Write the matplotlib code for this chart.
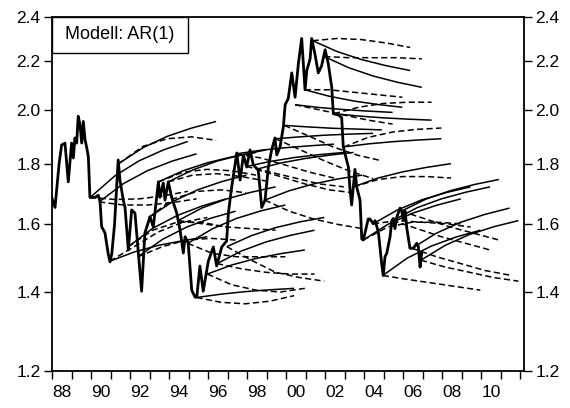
import matplotlib
matplotlib.use("Agg")
import matplotlib.pyplot as plt
from matplotlib.ticker import FixedLocator, NullLocator, FixedFormatter
from matplotlib.patches import Rectangle

plt.rcParams['font.family'] = ['Liberation Sans', 'DejaVu Sans']

# beobachtete Reihe (Jahr, Wert)
years = [1987.97, 1988.14, 1988.35, 1988.48, 1988.65, 1988.82, 1988.99, 1989.08, 1989.16,
         1989.25, 1989.33, 1989.42, 1989.51, 1989.59, 1989.68, 1989.76, 1989.85, 1989.93,
         1990.19, 1990.36, 1990.45, 1990.53, 1990.70, 1990.87, 1990.96, 1991.05, 1991.19,
         1991.38, 1991.47, 1991.64, 1991.73, 1991.90, 1992.07, 1992.24, 1992.41, 1992.58,
         1992.75, 1993.01, 1993.18, 1993.44, 1993.52, 1993.69, 1993.78, 1993.95, 1994.12,
         1994.38, 1994.55, 1994.72, 1994.81, 1994.97, 1995.15, 1995.32, 1995.41, 1995.57,
         1995.74, 1996.00, 1996.26, 1996.43, 1996.69, 1996.94, 1997.03, 1997.20, 1997.46,
         1997.63, 1997.80, 1997.97, 1998.14, 1998.31, 1998.56, 1998.74, 1998.91, 1999.08,
         1999.25, 1999.42, 1999.51, 1999.68, 1999.85, 1999.94, 2000.10, 2000.28, 2000.45,
         2000.62, 2000.79, 2000.96, 2001.05, 2001.22, 2001.30, 2001.47, 2001.64, 2001.81,
         2001.99, 2002.15, 2002.33, 2002.41, 2002.67, 2002.84, 2002.92, 2003.10, 2003.18,
         2003.27, 2003.35, 2003.52, 2003.61, 2003.78, 2003.87, 2003.95, 2004.20, 2004.29,
         2004.46, 2004.55, 2004.72, 2004.89, 2004.97, 2005.06, 2005.15, 2005.32, 2005.41,
         2005.49, 2005.57, 2005.66, 2005.83, 2005.92, 2006.00, 2006.09, 2006.17, 2006.34,
         2006.51, 2006.69, 2006.77, 2006.86, 2006.94]
values = [1.685, 1.652, 1.80, 1.867, 1.874, 1.737, 1.874, 1.820, 1.893,
          1.874, 1.975, 1.943, 1.874, 1.955, 1.886, 1.860, 1.824, 1.685,
          1.685, 1.692, 1.670, 1.591, 1.572, 1.508, 1.485, 1.508, 1.596,
          1.813, 1.743, 1.676, 1.652, 1.520, 1.644, 1.634, 1.514, 1.402,
          1.572, 1.622, 1.590, 1.737, 1.685, 1.733, 1.676, 1.737, 1.685,
          1.634, 1.581, 1.511, 1.560, 1.540, 1.405, 1.386, 1.386, 1.473,
          1.402, 1.487, 1.529, 1.473, 1.529, 1.547, 1.634, 1.720, 1.838,
          1.743, 1.831, 1.788, 1.849, 1.795, 1.778, 1.652, 1.676, 1.788,
          1.849, 1.893, 1.831, 1.860, 1.935, 2.020, 2.045, 2.150, 2.050,
          2.190, 2.300, 2.080, 2.160, 2.210, 2.300, 2.230, 2.150, 2.180,
          2.250, 2.190, 2.090, 1.985, 1.980, 1.970, 1.860, 1.810, 1.790,
          1.709, 1.660, 1.780, 1.720, 1.676, 1.553, 1.550, 1.615, 1.615,
          1.600, 1.610, 1.575, 1.480, 1.446, 1.500, 1.510, 1.560, 1.610,
          1.617, 1.585, 1.620, 1.650, 1.640, 1.612, 1.640, 1.590, 1.525,
          1.525, 1.540, 1.530, 1.470, 1.510]

# Prognoseursprünge und Prognosen (Werte nach 0, 1.25, 2.5, 3.75, 5 Jahren)
horizon = [0, 1.25, 2.5, 3.75, 5]
origins = [1989.95, 1990.4, 1990.95, 1991.4, 1991.9, 1992.4, 1992.95, 1993.45, 1993.95,
           1994.45, 1994.95, 1995.4, 1995.95, 1996.45, 1996.95, 1997.45, 1997.95, 1998.45,
           1998.9, 1999.45, 1999.9, 2000.45, 2000.95, 2001.35, 2001.95, 2002.45, 2002.95,
           2003.45, 2003.95, 2004.45, 2004.95, 2005.45, 2005.9, 2006.45, 2006.9]
fc_solid = [
    [1.685, 1.757, 1.810, 1.849, 1.880],
    [1.670, 1.731, 1.776, 1.809, 1.835],
    [1.487, 1.514, 1.534, 1.548, 1.560],
    [1.800, 1.857, 1.899, 1.930, 1.955],
    [1.530, 1.586, 1.626, 1.656, 1.680],
    [1.500, 1.552, 1.590, 1.618, 1.640],
    [1.620, 1.672, 1.710, 1.738, 1.760],
    [1.737, 1.775, 1.803, 1.824, 1.840],
    [1.737, 1.778, 1.809, 1.831, 1.849],
    [1.610, 1.651, 1.680, 1.702, 1.720],
    [1.540, 1.584, 1.617, 1.641, 1.660],
    [1.385, 1.394, 1.401, 1.406, 1.410],
    [1.450, 1.476, 1.495, 1.509, 1.520],
    [1.480, 1.517, 1.544, 1.564, 1.580],
    [1.530, 1.563, 1.588, 1.606, 1.620],
    [1.835, 1.848, 1.857, 1.864, 1.870],
    [1.790, 1.808, 1.822, 1.832, 1.840],
    [1.780, 1.802, 1.818, 1.830, 1.840],
    [1.676, 1.707, 1.730, 1.747, 1.760],
    [1.890, 1.897, 1.903, 1.907, 1.910],
    [1.940, 1.934, 1.929, 1.926, 1.923],
    [2.020, 2.009, 2.001, 1.995, 1.990],
    [2.080, 2.054, 2.035, 2.021, 2.010],
    [2.290, 2.242, 2.207, 2.181, 2.160],
    [2.220, 2.172, 2.137, 2.111, 2.090],
    [1.985, 1.976, 1.969, 1.964, 1.960],
    [1.860, 1.871, 1.879, 1.885, 1.890],
    [1.720, 1.750, 1.771, 1.787, 1.800],
    [1.550, 1.598, 1.633, 1.659, 1.680],
    [1.600, 1.644, 1.677, 1.701, 1.720],
    [1.446, 1.496, 1.532, 1.559, 1.580],
    [1.610, 1.651, 1.680, 1.702, 1.720],
    [1.640, 1.679, 1.707, 1.728, 1.745],
    [1.525, 1.571, 1.605, 1.630, 1.650],
    [1.490, 1.534, 1.567, 1.591, 1.610],
]
fc_dashed = [
    [1.685, 1.678, 1.680, 1.690, 1.705],
    [1.670, 1.660, 1.660, 1.668, 1.680],
    [1.487, 1.530, 1.575, 1.605, 1.620],
    [1.800, 1.862, 1.890, 1.897, 1.884],
    [1.530, 1.580, 1.605, 1.605, 1.590],
    [1.500, 1.530, 1.550, 1.555, 1.550],
    [1.620, 1.680, 1.705, 1.710, 1.700],
    [1.737, 1.770, 1.780, 1.775, 1.760],
    [1.737, 1.760, 1.765, 1.755, 1.740],
    [1.610, 1.600, 1.590, 1.585, 1.580],
    [1.540, 1.510, 1.500, 1.500, 1.500],
    [1.385, 1.372, 1.368, 1.375, 1.390],
    [1.450, 1.420, 1.405, 1.400, 1.410],
    [1.480, 1.465, 1.455, 1.450, 1.450],
    [1.530, 1.490, 1.455, 1.440, 1.430],
    [1.835, 1.820, 1.795, 1.770, 1.750],
    [1.790, 1.770, 1.750, 1.730, 1.720],
    [1.780, 1.755, 1.730, 1.710, 1.700],
    [1.676, 1.640, 1.615, 1.598, 1.585],
    [1.890, 1.850, 1.810, 1.775, 1.748],
    [1.940, 1.900, 1.860, 1.830, 1.810],
    [2.020, 2.000, 1.980, 1.960, 1.945],
    [2.080, 2.080, 2.070, 2.060, 2.050],
    [2.290, 2.300, 2.295, 2.280, 2.260],
    [2.220, 2.215, 2.215, 2.215, 2.210],
    [1.985, 2.010, 2.025, 2.030, 2.030],
    [1.860, 1.895, 1.915, 1.925, 1.930],
    [1.720, 1.745, 1.755, 1.755, 1.750],
    [1.550, 1.590, 1.605, 1.605, 1.600],
    [1.600, 1.610, 1.605, 1.600, 1.590],
    [1.446, 1.435, 1.425, 1.415, 1.405],
    [1.610, 1.585, 1.560, 1.540, 1.520],
    [1.640, 1.615, 1.590, 1.570, 1.550],
    [1.525, 1.500, 1.480, 1.460, 1.447],
    [1.490, 1.470, 1.455, 1.440, 1.430],
]

y_ticks = [1.2, 1.4, 1.6, 1.8, 2.0, 2.2, 2.4]
x_label_years = list(range(1988, 2011, 2))

fig = plt.figure(figsize=(5.7, 4.08), dpi=100)
ax = fig.add_axes([0.0907, 0.0914, 0.829, 0.8676])

for o, s, d in zip(origins, fc_solid, fc_dashed):
    xs = [o + h for h in horizon]
    ax.plot(xs, s, color='black', lw=1.1, solid_capstyle='butt')
    ax.plot(xs, d, color='black', lw=1.1, linestyle=(0, (4, 2.2)))

ax.plot(years, values, color='black', lw=2.0, solid_joinstyle='round')

ax.set_yscale('log')
ax.set_ylim(1.2, 2.4)
ax.set_xlim(1987.97, 2012.2)

ax.yaxis.set_major_locator(FixedLocator(y_ticks))
ax.yaxis.set_minor_locator(NullLocator())
ax.yaxis.set_major_formatter(FixedFormatter(['%.1f' % v for v in y_ticks]))
ax.tick_params(axis='y', which='major', left=True, right=True, labelleft=True,
               labelright=True, direction='out', length=6, width=1, pad=2, labelsize=12.5)

ax.xaxis.set_major_locator(FixedLocator(list(range(1988, 2013))))
ax.xaxis.set_major_formatter(FixedFormatter([''] * 25))
ax.xaxis.set_minor_locator(FixedLocator([y + 0.5 for y in x_label_years]))
ax.xaxis.set_minor_formatter(FixedFormatter(['%02d' % (y % 100) for y in x_label_years]))
ax.tick_params(axis='x', which='major', direction='out', length=6, width=1)
ax.tick_params(axis='x', which='minor', length=0, pad=10, labelsize=12.5)

for sp in ax.spines.values():
    sp.set_linewidth(1.3)

ax.add_patch(Rectangle((0, 0.898), 0.288, 0.102, transform=ax.transAxes,
                       facecolor='white', edgecolor='black', lw=1.0, zorder=5))
ax.text(0.144, 0.949, 'Modell: AR(1)', transform=ax.transAxes, ha='center',
        va='center', fontsize=13, zorder=6)

fig.savefig('out.png', dpi=100)
